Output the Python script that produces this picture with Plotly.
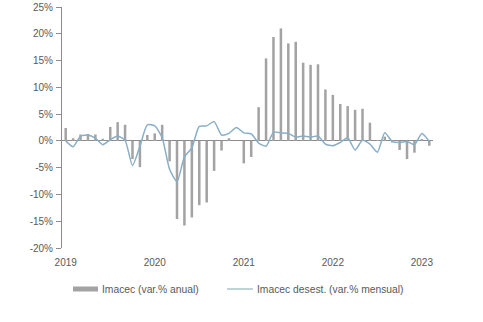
import plotly.graph_objects as go

# Monthly index: January 2019 .. February 2023
months = [f"{y}-{m:02d}" for y in range(2019, 2024) for m in range(1, 13)][:50]

# Imacec, annual % change
imacec_anual = [
    2.4, 0.5, 1.2, 1.3, 1.2, 0.4, 2.6, 3.5, 3.0, -3.4, -4.9, 1.1,
    1.4, 3.0, -3.8, -14.6, -15.8, -14.3, -12.0, -11.5, -5.6, -1.8, 0.5, 0.0,
    -4.2, -3.0, 6.3, 15.4, 19.4, 21.0, 18.2, 18.5, 14.6, 14.2, 14.3, 9.6,
    8.6, 6.9, 6.5, 5.8, 6.0, 3.4, 0.1, 0.8, -0.3, -1.7, -3.4, -2.2,
    0.2, -0.9,
]

# Seasonally adjusted Imacec, monthly % change
imacec_desest = [
    0.0, -1.1, 0.9, 1.1, 0.5, -0.7, 0.2, 0.9, 0.1, -4.6, -1.0, 3.0,
    2.8, 0.6, -5.3, -7.6, -3.0, -1.3, 2.7, 2.8, 3.6, 1.1, 1.4, 2.5,
    1.5, 1.3, -0.4, -1.0, 1.6, 1.5, 1.4, 0.7, 0.9, 0.7, 0.9, -0.6,
    -0.9, -0.3, 0.6, -1.7, 0.1, -0.6, -2.1, 1.5, -0.1, -0.3, -0.1, -0.7,
    1.4, -0.1,
]

year_labels = ["2019", "2020", "2021", "2022", "2023"]
y_ticks = [25, 20, 15, 10, 5, 0, -5, -10, -15, -20]

bar_color = "#A3A3A3"
line_color = "#88AEC8"
text_color = "#595959"
axis_color = "#8C8C8C"
font_family = "Liberation Sans, Arial, sans-serif"

# plot area geometry (pixels) used to place the legend below it
PLOT_L, PLOT_W, PLOT_B, PLOT_H = 62, 371, 248, 241


def px_x(px):
    return (px - PLOT_L) / PLOT_W


def px_y(py):
    return -(py - PLOT_B) / PLOT_H


x_idx = list(range(len(months)))

fig = go.Figure()
fig.add_trace(go.Bar(
    x=x_idx, y=imacec_anual, name="Imacec (var.% anual)",
    marker=dict(color=bar_color, line=dict(width=0)),
    width=0.34, showlegend=False,
))
fig.add_trace(go.Scatter(
    x=x_idx, y=imacec_desest, name="Imacec desest. (var.% mensual)",
    mode="lines", line=dict(color=line_color, width=1.5, shape="spline", smoothing=0.6),
    showlegend=False,
))

fig.update_layout(
    width=483, height=322,
    margin=dict(l=62, r=50, t=7, b=74),
    paper_bgcolor="white", plot_bgcolor="white",
    font=dict(family=font_family, size=10, color=text_color),
    xaxis=dict(
        range=[-0.5, 49.5],
        automargin=False,
        tickmode="array",
        tickvals=[i for i, m in enumerate(months) if m.endswith("-01")],
        ticktext=year_labels,
        showgrid=False, zeroline=False, showline=False,
        ticks="", ticklabelstandoff=7,
        tickfont=dict(size=10, color=text_color),
    ),
    yaxis=dict(
        range=[-20, 25],
        automargin=False,
        tickmode="array",
        tickvals=y_ticks,
        ticktext=[f"{v}%" for v in y_ticks],
        showgrid=False,
        zeroline=True, zerolinecolor=axis_color, zerolinewidth=1,
        showline=True, linecolor=axis_color, linewidth=1,
        ticks="outside", ticklen=5, tickcolor=axis_color,
        ticklabelstandoff=1,
        tickfont=dict(size=10, color=text_color),
    ),
)

# Legend drawn below the plot area
legend_y = px_y(289)
fig.add_shape(type="rect", xref="paper", yref="paper",
              x0=px_x(73), x1=px_x(98), y0=px_y(291.5), y1=px_y(286.5),
              fillcolor=bar_color, line=dict(width=0))
fig.add_shape(type="line", xref="paper", yref="paper",
              x0=px_x(227), x1=px_x(253), y0=legend_y, y1=legend_y,
              line=dict(color="#7FA8A8", width=1))
fig.add_annotation(xref="paper", yref="paper", x=px_x(100), y=legend_y,
                   text="Imacec (var.% anual)", showarrow=False,
                   xanchor="left", yanchor="middle",
                   font=dict(size=10.3, color=text_color))
fig.add_annotation(xref="paper", yref="paper", x=px_x(255), y=legend_y,
                   text="Imacec desest. (var.% mensual)", showarrow=False,
                   xanchor="left", yanchor="middle",
                   font=dict(size=10.3, color=text_color))

fig.write_html("out.html")
